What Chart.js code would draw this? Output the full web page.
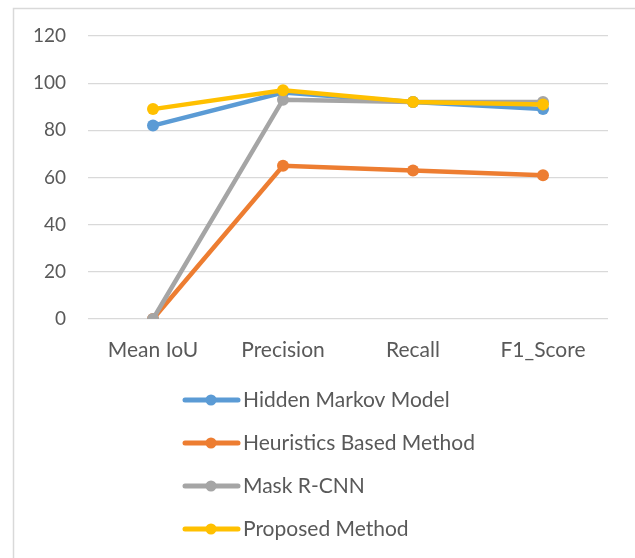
<!DOCTYPE html>
<html>
<head>
<meta charset="utf-8">
<script src="https://cdn.jsdelivr.net/npm/chart.js@4/dist/chart.umd.min.js"></script>
<style>
html,body{margin:0;padding:0;background:#fff;}
#wrap{width:635px;height:558px;position:relative;}
</style>
</head>
<body>
<div id="wrap"><canvas id="c" width="635" height="558"></canvas></div>
<script>
const categories = ["Mean IoU", "Precision", "Recall", "F1_Score"];
const seriesNames = ["Hidden Markov Model", "Heuristics Based Method", "Mask R-CNN", "Proposed Method"];
const hmmValues = [82, 96, 92, 89];
const heuristicsValues = [0, 65, 63, 61];
const maskRcnnValues = [0, 93, 92, 92];
const proposedValues = [89, 97, 92, 91];
const seriesColors = ["#5B9BD5", "#ED7D31", "#A5A5A5", "#FFC000"];
const yTicks = [0, 20, 40, 60, 80, 100, 120];

const FONT = "Lato, 'Liberation Sans', sans-serif";
const TEXT = "#595959";
const allValues = [hmmValues, heuristicsValues, maskRcnnValues, proposedValues];

const datasets = allValues.map((vals, i) => ({
  label: seriesNames[i],
  data: vals,
  borderColor: seriesColors[i],
  backgroundColor: seriesColors[i],
  pointBackgroundColor: seriesColors[i],
  pointBorderColor: seriesColors[i],
  borderWidth: 4.5,
  pointRadius: 6,
  pointBorderWidth: 0,
  tension: 0,
  order: allValues.length - 1 - i
}));

const framePlugin = {
  id: 'frame',
  beforeDraw(chart) {
    const ctx = chart.ctx;
    ctx.save();
    ctx.fillStyle = '#fff';
    ctx.fillRect(0, 0, chart.width, chart.height);
    ctx.strokeStyle = '#d9d9d9';
    ctx.lineWidth = 1.5;
    ctx.beginPath();
    ctx.moveTo(13.5, chart.height);
    ctx.lineTo(13.5, 8.5);
    ctx.lineTo(chart.width, 8.5);
    ctx.stroke();
    ctx.restore();
  }
};

const legendPlugin = {
  id: 'vlegend',
  afterDraw(chart) {
    const ctx = chart.ctx;
    ctx.save();
    chart.data.datasets.forEach((ds, i) => {
      const y = 400 + i * 43;
      ctx.strokeStyle = ds.borderColor;
      ctx.lineWidth = 5;
      ctx.lineCap = 'round';
      ctx.beginPath();
      ctx.moveTo(185, y);
      ctx.lineTo(238, y);
      ctx.stroke();
      ctx.fillStyle = ds.borderColor;
      ctx.beginPath();
      ctx.arc(211, y, 5.5, 0, Math.PI * 2);
      ctx.fill();
      ctx.fillStyle = TEXT;
      ctx.font = "21px " + FONT;
      ctx.textBaseline = 'middle';
      ctx.textAlign = 'left';
      ctx.fillText(ds.label, 243, y);
    });
    ctx.restore();
  }
};

new Chart(document.getElementById('c'), {
  type: 'line',
  data: { labels: categories, datasets },
  options: {
    responsive: false,
    animation: false,
    layout: { padding: { top: 36, right: 27, left: 0, bottom: 0 } },
    plugins: { legend: { display: false }, tooltip: { enabled: false } },
    scales: {
      x: {
        offset: true,
        grid: { display: false, drawTicks: false },
        border: { display: false },
        ticks: { color: TEXT, font: { family: FONT, size: 21 }, padding: 19, maxRotation: 0 },
        afterFit(s) { s.height = 239; }
      },
      y: {
        min: 0, max: 120,
        afterBuildTicks(s) { s.ticks = yTicks.map(v => ({ value: v })); },
        grid: { color: '#d9d9d9', lineWidth: 1.2, drawTicks: false },
        border: { display: false },
        ticks: { color: TEXT, font: { family: FONT, size: 19 }, padding: 22 },
        afterFit(s) { s.width = 88; }
      }
    }
  },
  plugins: [framePlugin, legendPlugin]
});
</script>
</body>
</html>
